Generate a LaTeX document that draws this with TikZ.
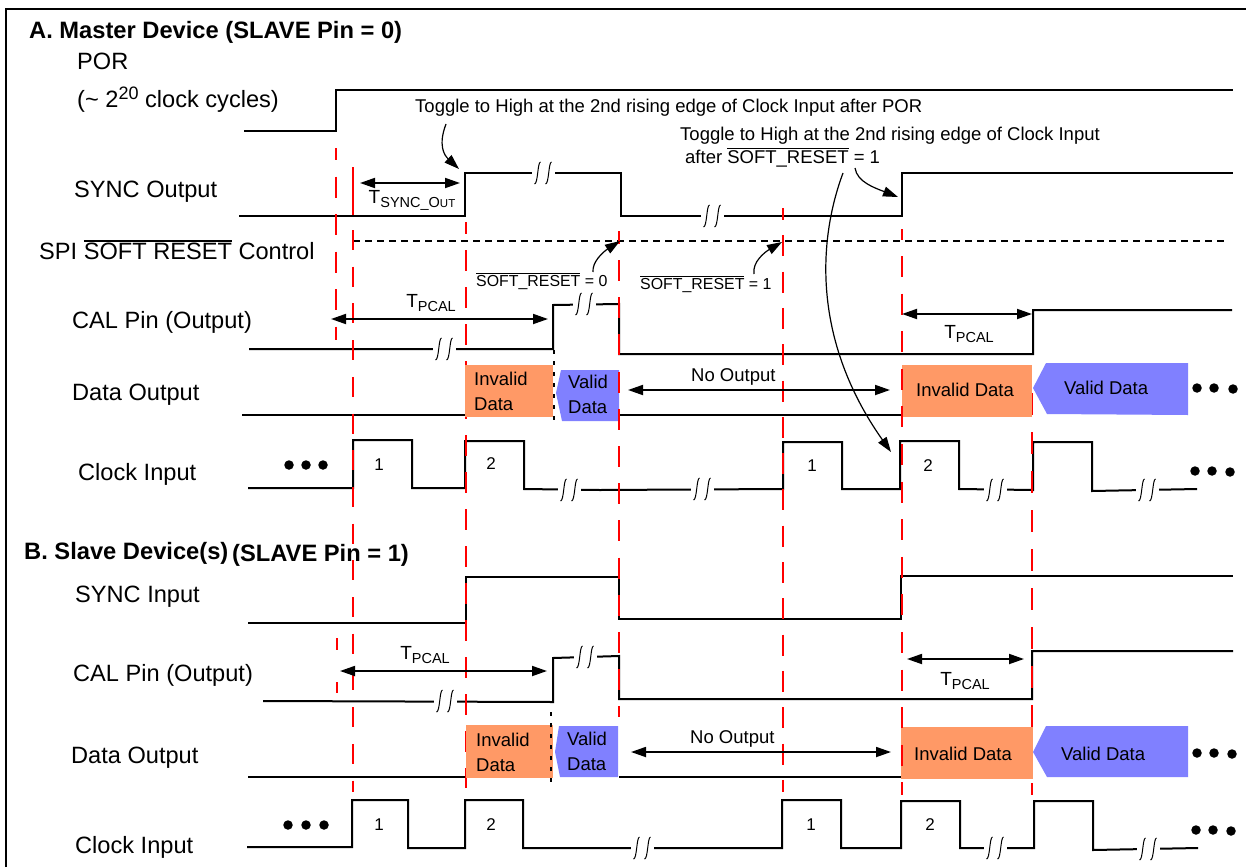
\documentclass[tikz,border=0pt]{standalone}
\usepackage{fontspec}
\setmainfont{Liberation Sans}
\usetikzlibrary{arrows.meta}
\newcommand\ovl[1]{\leavevmode\vbox{\hrule height 1.3pt \kern 1pt\hbox{#1}}}
\newcommand\Tsub[1]{T\raisebox{-4pt}{\fontsize{14.5}{16}\selectfont #1}}
\tikzset{
  wave/.style={draw=black,line width=2pt,miter limit=10},
  reddash/.style={draw=red,line width=2pt,dash pattern=on 21pt off 16.5pt},
  dim/.style={draw=black,line width=1.8pt,{Triangle[length=15pt,width=10pt]}-{Triangle[length=15pt,width=10pt]}},
  callout/.style={draw=black,line width=1.2pt,-{Triangle[length=15pt,width=10pt]}},
  lab/.style={anchor=base west,inner sep=0pt,font=\fontsize{23.6}{26}\selectfont},
  head/.style={anchor=base west,inner sep=0pt,font=\fontsize{23.7}{26}\selectfont\bfseries},
  note/.style={anchor=base west,inner sep=0pt,font=\fontsize{18.5}{20}\selectfont},
  small/.style={anchor=base west,inner sep=0pt,font=\fontsize{15.9}{18}\selectfont},
  tlab/.style={anchor=base,inner sep=0pt,font=\fontsize{19}{20}\selectfont},
  num/.style={anchor=base,inner sep=0pt,font=\fontsize{17}{18}\selectfont},
  dot/.style={circle,fill=black,inner sep=0pt,minimum size=#1},
  dot/.default=9.5pt,
  invalid/.style={fill=orange1,draw=none},
  valid/.style={fill=blue1,draw=none},
  dotted line/.style={draw=black,line width=2pt,dash pattern=on 3.5pt off 7.5pt},
  brk/.pic={
    \fill[white] (-11.5,-2) rectangle (11.5,2);
    \draw[black,line width=1pt] (-8.5,11) .. controls (-5,11) and (-5.5,-11) .. (-2.5,-11);
    \draw[black,line width=1pt] (2.5,11) .. controls (6,11) and (5.5,-11) .. (8.5,-11);
  }
}
\definecolor{orange1}{HTML}{FF9966}
\definecolor{blue1}{HTML}{8080FF}
\begin{document}
\begin{tikzpicture}[x=1pt,y=-1pt]
\useasboundingbox (0,0) rectangle (1246,867);
\fill[white] (0,0) rectangle (1246,867);
\draw[black,line width=2pt] (6,867) -- (6,9) -- (1246,9);

% waveforms, section A
\draw[wave] (244,131) -- (336,131) -- (336,90) -- (1233,90);
\draw[wave] (239,216) -- (465,216) -- (465,173) -- (621,173) -- (621,216) -- (902,216) -- (902,173) -- (1233,173);
\pic at (543,173) {brk};
\pic at (712,216) {brk};
\draw[black,line width=1.8pt,dash pattern=on 7pt off 5pt] (353,241) -- (1224,241);
\draw[wave] (249,349) -- (553,349) -- (553,305) -- (619,304) -- (619,354) -- (1033,354) -- (1033,310) -- (1232,310);
\pic at (444,349) {brk};
\pic at (584,304) {brk};
\draw[wave] (242,415) -- (465,415);
\draw[wave] (619,415) -- (902,415);
\draw[wave] (248,488) -- (353,488) -- (353,440) -- (412,440) -- (412,488) -- (465,488) -- (465,441) -- (524,441) -- (524,489) -- (600,490) -- (783,489) -- (783,442) -- (842,442) -- (842,489) -- (900,489) -- (900,441) -- (959,441) -- (959,489) -- (1033,490) -- (1033,442) -- (1092,442) -- (1092,491) -- (1197,489);
\pic at (569,490) {brk};
\pic at (702,489) {brk};
\pic at (995,490) {brk};
\pic at (1147,490) {brk};

% waveforms, section B
\draw[wave] (248,623) -- (466,623) -- (466,577) -- (619,577) -- (619,619) -- (901,619) -- (901,576) -- (1233,576);
\draw[wave] (263,701) -- (553,702) -- (553,658) -- (619,656) -- (619,699) -- (1032,699) -- (1032,651) -- (1233,651);
\pic at (445,701) {brk};
\pic at (585,657) {brk};
\draw[wave] (248,777) -- (466,777);
\draw[wave] (619,777) -- (902,777);
\draw[wave] (247,847) -- (352,847) -- (352,800) -- (408,800) -- (408,848) -- (465,848) -- (465,800) -- (523,800) -- (523,848) -- (782,848) -- (782,800) -- (841,800) -- (841,848) -- (901,848) -- (901,801) -- (960,801) -- (960,848) -- (1034,848) -- (1034,801) -- (1093,801) -- (1093,850) -- (1198,848);
\pic at (642,848) {brk};
\pic at (995,848) {brk};
\pic at (1148,849) {brk};

% red guide lines beneath the data boxes
\draw[reddash,dash phase=9pt] (336,148) -- (336,340);
\draw[draw=red,line width=2pt] (337,638) -- (337,650) (337,682) -- (337,693);
\draw[draw=red,line width=2pt] (353,167) -- (353,215);
\draw[reddash,dash pattern=on 20pt off 16.7pt] (353,230) -- (353,792);
\draw[reddash,dash pattern=on 21pt off 16pt] (466,250) -- (466,788);
\draw[draw=red,line width=2pt] (466,222) -- (466,234);
\draw[reddash,dash phase=9pt,dash pattern=on 21pt off 15.3pt] (783,208) -- (783,792);
\draw[reddash,dash pattern=on 22pt off 17pt] (1032,393) -- (1032,795);

% data boxes
\path[invalid] (465,365) rectangle (553,417);
\path[valid] (561,370) -- (619,370) -- (619,421) -- (562,421) -- (556,393) -- cycle;
\path[invalid] (902,365) rectangle (1032,417);
\path[valid] (1046,363) -- (1188,363) -- (1188,415) -- (1047,414) -- (1033,388) -- cycle;
\path[invalid] (466,725) rectangle (553,778);
\path[valid] (559,726) -- (618,726) -- (618,777) -- (560,777) -- (555,752) -- cycle;
\path[invalid] (901,727) rectangle (1033,779);
\path[valid] (1046,726) -- (1188,726) -- (1188,777) -- (1047,777) -- (1033,752) -- cycle;
\draw[dotted line] (554,350) -- (554,425);
\draw[dotted line] (551,712) -- (551,782);

% red guide lines above the data boxes
\draw[reddash,dash pattern=on 21pt off 16.2pt] (619,260) -- (619,717);
\draw[draw=red,line width=2pt] (619,231) -- (619,244);
\draw[reddash,dash pattern=on 21pt off 16.6pt] (902,256) -- (902,795);
\draw[draw=red,line width=2pt] (902,229) -- (902,240);

% ellipsis dots
\foreach \n/\a/\b in {a/289/465,b/306/465,c/323/465,d/1197/388,e/1214/388,f/1233/389,g/1195/471,h/1212/471,i/1230/472,j/288/825,k/306/825,l/324/825,m/1197/753,n/1214/753,o/1232/754,p/1196/830,q/1213/830,r/1231/831}
  \node[dot] (dot\n) at (\a,\b) {};

% headings and signal names
\node[head] (hA) at (29,39) {A. Master Device (SLAVE Pin = 0)};
\node[lab] (por) at (77,70) {POR};
\node[lab] (cyc) at (77,107) {(\textasciitilde{} 2\raisebox{8pt}{\fontsize{18}{20}\selectfont 20} clock cycles)};
\node[lab] (syncO) at (74,197) {SYNC Output};
\node[lab] (spi) at (39,259) {SPI \ovl{SOFT RESET} Control};
\node[lab] (calA) at (72,328) {CAL Pin (Output)};
\node[lab] (dataA) at (72,400) {Data Output};
\node[lab] (clkA) at (78,480) {Clock Input};
\node[head] (hB) at (24,559) {B. Slave Device(s)};
\node[head] (hB2) at (232,561) {(SLAVE Pin = 1)};
\node[lab] (syncI) at (75,602) {SYNC Input};
\node[lab] (calB) at (73,681) {CAL Pin (Output)};
\node[lab] (dataB) at (71,763) {Data Output};
\node[lab] (clkB) at (75,853) {Clock Input};

% notes
\node[note] (n1) at (415,112) {Toggle to High at the 2nd rising edge of Clock Input after POR};
\node[note] (n2) at (680,140) {Toggle to High at the 2nd rising edge of Clock Input};
\node[note] (n3) at (685,163) {after \ovl{SOFT\_RESET} = 1};
\node[small] (s0) at (476,286) {\ovl{SOFT\_RESET} = 0};
\node[small] (s1) at (640,289) {\ovl{SOFT\_RESET} = 1};

% timing labels
\node[tlab] (tsync) at (412,203) {\Tsub{SYNC\_O{\fontsize{11.5}{14}\selectfont UT}}};
\node[tlab] (tp1) at (431,307) {\Tsub{PCAL}};
\node[tlab] (tp2) at (969,338) {\Tsub{PCAL}};
\node[tlab] (tp3) at (425,659) {\Tsub{PCAL}};
\node[tlab] (tp4) at (965,685) {\Tsub{PCAL}};
\node[note] (no1) at (691,381) {No Output};
\node[note] (no2) at (690,743) {No Output};

% box texts
\node[note] (ia1) at (474,385) {Invalid};
\node[note] (ia2) at (474,410) {Data};
\node[note] (va1) at (568,388) {Valid};
\node[note] (va2) at (568,413) {Data};
\node[note] (ib) at (916,396) {Invalid Data};
\node[note] (vb) at (1064,394) {Valid Data};
\node[note] (ic1) at (476,746) {Invalid};
\node[note] (ic2) at (476,771) {Data};
\node[note] (vc1) at (567,745) {Valid};
\node[note] (vc2) at (567,770) {Data};
\node[note] (id) at (914,760) {Invalid Data};
\node[note] (vd) at (1061,760) {Valid Data};

% clock numbers
\node[num] (c1) at (379,470) {1};
\node[num] (c2) at (491,469) {2};
\node[num] (c3) at (812,471) {1};
\node[num] (c4) at (928,471) {2};
\node[num] (c5) at (379,830) {1};
\node[num] (c6) at (491,830) {2};
\node[num] (c7) at (811,830) {1};
\node[num] (c8) at (930,830) {2};

% dimension arrows
\coordinate (a1) at (360,183); \coordinate (a2) at (460,183);
\coordinate (a3) at (331,319); \coordinate (a4) at (548,319);
\coordinate (a5) at (628,390); \coordinate (a6) at (890,390);
\coordinate (a7) at (902,314); \coordinate (a8) at (1032,314);
\coordinate (a9) at (340,671); \coordinate (a10) at (547,671);
\coordinate (a11) at (907,659); \coordinate (a12) at (1024,659);
\coordinate (a13) at (631,752); \coordinate (a14) at (891,752);
\draw[dim] (a1) -- (a2);
\draw[dim] (a3) -- (a4);
\draw[dim] (a5) -- (a6);
\draw[dim] (a7) -- (a8);
\draw[dim] (a9) -- (a10);
\draw[dim] (a11) -- (a12);
\draw[dim] (a13) -- (a14);

% callouts
\coordinate (b1) at (446,124); \coordinate (b2) at (459,169);
\coordinate (b3) at (855,168); \coordinate (b4) at (898,197);
\coordinate (b5) at (843,173); \coordinate (b6) at (891,452);
\coordinate (b7) at (593,272); \coordinate (b8) at (620,241);
\coordinate (b9) at (754,274); \coordinate (b10) at (782,242);
\draw[callout] (b1) .. controls (438,145) and (444,155) .. (b2);
\draw[callout] (b3) .. controls (857,182) and (875,188) .. (b4);
\draw[callout] (b5) .. controls (818,240) and (812,340) .. (b6);
\draw[callout] (b7) .. controls (592,262) and (603,252) .. (b8);
\draw[callout] (b9) .. controls (752,262) and (765,252) .. (b10);
\end{tikzpicture}
\end{document}
